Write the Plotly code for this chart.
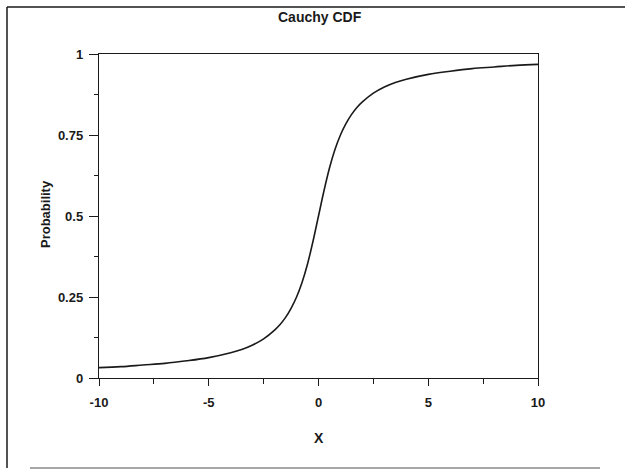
import plotly.graph_objects as go

# Values (Cauchy CDF curve)
x_vals = [-10, -9, -8, -7, -6, -5, -4, -3.5, -3, -2.5, -2, -1.75, -1.5, -1.25, -1, -0.75, -0.5, -0.25,
          0, 0.25, 0.5, 0.75, 1, 1.25, 1.5, 1.75, 2, 2.5, 3, 3.5, 4, 5, 6, 7, 8, 9, 10]
prob = [0.032, 0.035, 0.040, 0.045, 0.053, 0.063, 0.078, 0.088, 0.102, 0.121, 0.148, 0.165, 0.187,
        0.215, 0.250, 0.295, 0.352, 0.422, 0.500, 0.578, 0.648, 0.705, 0.750, 0.785, 0.813,
        0.835, 0.852, 0.879, 0.898, 0.912, 0.922, 0.937, 0.947, 0.955, 0.960, 0.965, 0.968]
x_ticks = [-10, -5, 0, 5, 10]
x_tick_text = ["-10", "-5", "0", "5", "10"]
x_minor = [-7.5, -2.5, 2.5, 7.5]
y_ticks = [0, 0.25, 0.5, 0.75, 1]
y_tick_text = ["0", "0.25", "0.5", "0.75", "1"]
y_minor = [0.125, 0.375, 0.625, 0.875]

W, H = 625, 470
ml, mr, mt, mb = 99, 87, 54, 92
pw, ph = W - ml - mr, H - mt - mb

def px_x(p):
    return (p - ml) / pw

def px_y(p):
    return (H - mb - p) / ph

FONT = "Liberation Sans, Arial, sans-serif"
ink = "#1a1a1a"

fig = go.Figure()
fig.add_trace(go.Scatter(x=x_vals, y=prob, mode="lines", line=dict(color=ink, width=1.6, shape="spline"),
                         showlegend=False, hoverinfo="skip"))

axis_common = dict(
    showgrid=False, zeroline=False, showline=True, linecolor=ink, linewidth=1.4, mirror=True,
    ticks="outside", tickcolor=ink, tickwidth=1.2,
    tickfont=dict(family=FONT, size=13, color=ink, weight="bold"),
)

fig.update_layout(
    width=W, height=H,
    margin=dict(l=ml, r=mr, t=mt, b=mb, pad=0),
    paper_bgcolor="white", plot_bgcolor="white",
    xaxis=dict(range=[-10, 10], tickvals=x_ticks, ticktext=x_tick_text, ticklen=7, ticklabelstandoff=5,
               minor=dict(ticks="outside", ticklen=5, tickvals=x_minor,
                          tickcolor=ink, tickwidth=1.2), **axis_common),
    yaxis=dict(range=[0, 1], tickvals=y_ticks, ticktext=y_tick_text, ticklen=9, ticklabelstandoff=3,
               minor=dict(ticks="outside", ticklen=4, tickvals=y_minor,
                          tickcolor=ink, tickwidth=1.2), **axis_common),
    showlegend=False,
)

# Titles
fig.add_annotation(text="Cauchy CDF", xref="paper", yref="paper", x=px_x(320), y=px_y(17),
                   xanchor="center", yanchor="middle",
                   showarrow=False, font=dict(family=FONT, size=14, color=ink, weight="bold"))
fig.add_annotation(text="X", xref="paper", yref="paper", x=px_x(319), y=px_y(438),
                   xanchor="center", yanchor="middle",
                   showarrow=False, font=dict(family=FONT, size=14, color=ink, weight="bold"))
fig.add_annotation(text="Probability", xref="paper", yref="paper", x=px_x(45), y=px_y(214),
                   xanchor="center", yanchor="middle",
                   textangle=-90, showarrow=False, font=dict(family=FONT, size=13, color=ink, weight="bold"))

# Outer frame
fig.add_shape(type="line", xref="paper", yref="paper", x0=px_x(7), x1=px_x(630), y0=px_y(7), y1=px_y(7),
              line=dict(color=ink, width=1.5))
fig.add_shape(type="line", xref="paper", yref="paper", x0=px_x(7), x1=px_x(7), y0=px_y(7), y1=px_y(468),
              line=dict(color=ink, width=1.5))
fig.add_shape(type="line", xref="paper", yref="paper", x0=px_x(30), x1=px_x(600), y0=px_y(468), y1=px_y(468),
              line=dict(color="#888888", width=1.5))

fig.write_html("out.html")
